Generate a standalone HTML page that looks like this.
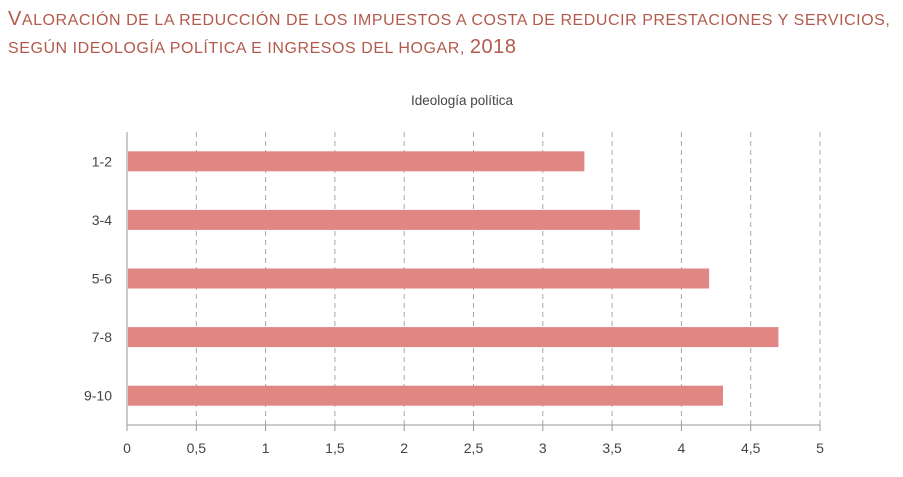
<!DOCTYPE html>
<html><head><meta charset="utf-8">
<style>
body{margin:0;background:#fff;width:903px;height:477px;overflow:hidden;font-family:"Liberation Sans",sans-serif}
.title{position:absolute;left:8px;top:6px;color:#b35a4c;font-size:16px;letter-spacing:0.55px;text-transform:uppercase;line-height:26px;white-space:nowrap}
.title .big{font-size:20px}
</style></head><body>
<div class="title"><span class="big">V</span>aloración de la reducción de los impuestos a costa de reducir prestaciones y servicios,<br>según ideología política e ingresos del hogar, <span class="big">2018</span></div>
<svg id="c" width="903" height="477" style="position:absolute;left:0;top:0"></svg>
<script>
const categories=["1-2","3-4","5-6","7-8","9-10"];
const values=[3.3,3.7,4.2,4.7,4.3];
const ticks=[0,0.5,1,1.5,2,2.5,3,3.5,4,4.5,5];
const tickLabels=["0","0,5","1","1,5","2","2,5","3","3,5","4","4,5","5"];
const NS="http://www.w3.org/2000/svg";
const svg=document.getElementById('c');
const x0=127,x1=820,plotTop=132,plotBot=425;
const xs=v=>x0+(x1-x0)*v/5;
const band=(plotBot-plotTop)/categories.length;
const ys=i=>plotTop+band*(i+0.5);
function mk(t,a){const e=document.createElementNS(NS,t);for(const k in a)e.setAttribute(k,a[k]);svg.appendChild(e);return e;}
let t=mk('text',{x:462,y:105,'text-anchor':'middle','font-size':13.5,fill:'#444','font-family':'Liberation Sans,sans-serif'});
t.textContent='Ideología política';


ticks.forEach((v,i)=>{
 if(i>0){const g=mk('line',{x1:xs(v),x2:xs(v),y1:plotTop,y2:plotBot,stroke:'#a8a8a8','stroke-dasharray':'5,4'});
 
 }
 const tk=mk('line',{x1:xs(v),x2:xs(v),y1:plotBot,y2:plotBot+6,stroke:'#999'});
 
 
 const l=mk('text',{x:xs(v),y:453,'text-anchor':'middle','font-size':14,fill:'#444','font-family':'Liberation Sans,sans-serif'});
 l.textContent=tickLabels[i];
 
 
});
const ax=mk('line',{x1:x0,x2:x0,y1:plotTop,y2:plotBot,stroke:'#999'});


const bx=mk('line',{x1:x0,x2:x1,y1:plotBot,y2:plotBot,stroke:'#999'});


categories.forEach((c,i)=>{
 const r=mk('rect',{x:x0+1,y:ys(i)-10,width:xs(values[i])-x0-1,height:20,fill:'#e08683'});
 
 
 const l=mk('text',{x:112,y:ys(i)+5,'text-anchor':'end','font-size':14,fill:'#444','font-family':'Liberation Sans,sans-serif'});
 l.textContent=c;
 
 
});
</script>
</body></html>
